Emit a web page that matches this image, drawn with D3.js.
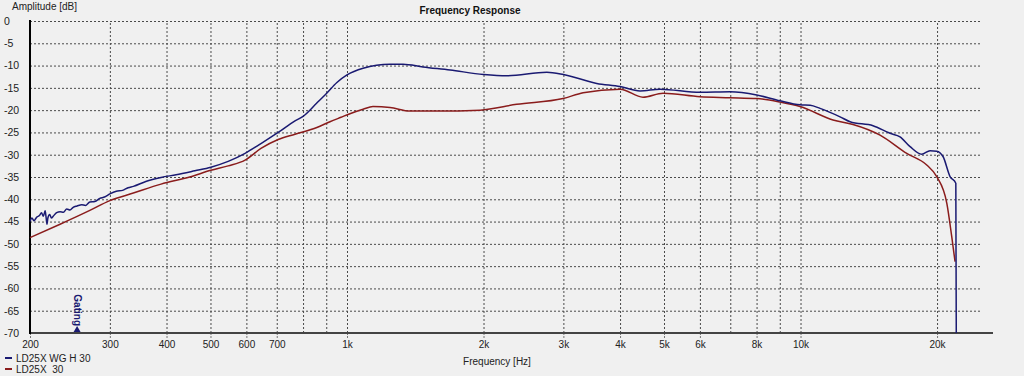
<!DOCTYPE html>
<html>
<head>
<meta charset="utf-8">
<script src="https://cdn.jsdelivr.net/npm/d3@7"></script>
<style>
  body { margin: 0; background: #f0f0f0; }
  svg { display: block; font-family: "Liberation Sans", Arial, sans-serif; }
</style>
</head>
<body>
<div id="chart"></div>
<script>
// measured curves (Hz, dB)
var blueFreq = [200, 202, 204, 207, 210, 212, 214, 216, 217, 218, 219, 221, 223, 225, 229, 233, 237, 241, 245, 249, 254, 260, 265, 271, 278, 285, 292, 300, 310, 320, 329, 338, 360, 389, 420, 462, 501, 547, 596, 646, 705, 768, 800, 858, 902, 950, 1000, 1085, 1244, 1329, 1471, 1688, 2000, 2250, 2758, 3000, 3554, 4000, 4428, 4900, 6004, 6994, 8008, 9013, 9977, 10500, 11042, 12222, 12860, 14452, 15756, 16574, 17440, 18504, 19300, 19968, 20616, 21364, 22000, 22050]
var blueDb = [-45.0, -44.2, -44.8, -44.0, -43.6, -43.0, -43.8, -42.6, -44.0, -45.6, -44.2, -43.4, -44.2, -43.8, -43.0, -42.8, -42.9, -42.2, -42.4, -41.8, -41.5, -41.2, -41.4, -40.6, -40.5, -39.8, -39.5, -38.8, -38.2, -38.0, -37.4, -37.1, -36.0, -35.1, -34.5, -33.6, -32.8, -31.5, -29.7, -27.5, -25.0, -22.4, -21.4, -18.4, -16.2, -13.8, -12.1, -10.6, -9.7, -9.7, -10.3, -11.0, -12.0, -12.3, -11.5, -12.0, -14.0, -14.7, -15.7, -15.3, -16.0, -15.9, -16.6, -17.9, -18.8, -18.9, -19.6, -21.5, -22.6, -23.5, -25.2, -26.0, -28.2, -29.9, -29.1, -29.2, -30.4, -34.9, -36.4, -70]

var redFreq = [200, 233, 271, 300, 338, 389, 450, 501, 547, 596, 646, 705, 768, 858, 917, 970, 1015, 1085, 1141, 1244, 1377, 1577, 1965, 2367, 2994, 3316, 4000, 4494, 4976, 6004, 6994, 8008, 9013, 9977, 11794, 13056, 14975, 17148, 18980, 19968, 21018, 21549, 21914]
var redDb = [-48.6, -45.6, -42.5, -40.3, -38.6, -36.6, -35.0, -33.5, -32.5, -31.2, -28.6, -26.6, -25.4, -23.9, -22.6, -21.6, -20.8, -19.8, -19.2, -19.4, -20.2, -20.2, -20.0, -18.7, -17.4, -16.1, -15.3, -17.1, -16.2, -17.0, -17.2, -17.4, -18.2, -19.2, -22.2, -23.2, -25.6, -29.7, -32.3, -34.9, -40.9, -48.4, -54.0]

var gridFreqs = [300, 400, 500, 600, 700, 800, 900, 1000, 2000, 3000, 4000, 5000, 6000, 7000, 8000, 9000, 10000, 20000]
var labelFreqs = [200, 300, 400, 500, 600, 700, 1000, 2000, 3000, 4000, 5000, 6000, 8000, 10000, 20000]
var dbTicks = [0, -5, -10, -15, -20, -25, -30, -35, -40, -45, -50, -55, -60, -65, -70]
var seriesNames = ["LD25X WG H 30", "LD25X  30"]
var seriesColors = ["#1a1a72", "#8a1c1c"]
var gatingFreq = 254

var W = 1024, H = 376
var pLeft = 30, pRight = 993, gridRight = 981, pTop = 21, pBottom = 333

var svg = d3.select("#chart").append("svg")
  .attr("width", W).attr("height", H)

var x = d3.scaleLog().domain([200, 26570]).range([pLeft, pRight])
var y = d3.scaleLinear().domain([-70, 0]).range([pBottom, pTop])

// horizontal grid
svg.append("g")
  .attr("transform", "translate(" + pLeft + ",0)")
  .call(d3.axisLeft(y).tickValues(dbTicks.slice(0, -1)).tickSize(-(gridRight - pLeft)).tickFormat(""))
  .call(function(g) { g.select(".domain").remove() })
  .selectAll("line")
    .attr("stroke", "#4a4a4a")
    .attr("stroke-dasharray", "2,2")

// vertical grid
svg.append("g")
  .attr("transform", "translate(0," + pBottom + ")")
  .call(d3.axisBottom(x).tickValues(gridFreqs).tickSize(-(pBottom - pTop)).tickFormat(""))
  .call(function(g) { g.select(".domain").remove() })
  .selectAll("line")
    .attr("stroke", "#4a4a4a")
    .attr("stroke-dasharray", "2,2")

// x labels
var fmt = function(d) { return d >= 1000 ? (d / 1000) + "k" : d }
var xAxis = svg.append("g")
  .attr("transform", "translate(0," + pBottom + ")")
  .call(d3.axisBottom(x).tickValues(labelFreqs).tickSize(5).tickPadding(3).tickFormat(fmt))
xAxis.select(".domain").remove()
xAxis.selectAll("line").attr("stroke", "#777").attr("stroke-dasharray", "2,1")
xAxis.selectAll("text").attr("fill", "#222").style("font-size", "10px")

// y labels
var yAxis = svg.append("g")
  .attr("transform", "translate(" + pLeft + ",0)")
  .call(d3.axisLeft(y).tickValues(dbTicks).tickSize(0).tickFormat(function(d) { return d }))
yAxis.select(".domain").remove()
yAxis.selectAll("text")
  .attr("x", 4 - pLeft)
  .attr("text-anchor", "start")
  .attr("fill", "#222")
  .style("font-size", "10.5px")

// axis lines
svg.append("line")
  .attr("x1", pLeft - 1).attr("x2", pRight)
  .attr("y1", pBottom).attr("y2", pBottom)
  .attr("stroke", "#444").attr("stroke-width", 2)
svg.append("line")
  .attr("x1", pLeft).attr("x2", pLeft)
  .attr("y1", pTop - 1).attr("y2", pBottom + 1)
  .attr("stroke", "#000").attr("stroke-width", 2)

// curves
var line = d3.line()
  .x(function(d) { return x(d[0]) })
  .y(function(d) { return y(d[1]) })
  .curve(d3.curveMonotoneX)

var series = [
  d3.zip(blueFreq, blueDb),
  d3.zip(redFreq, redDb)
]
svg.append("g").selectAll("path")
  .data([series[1], series[0]])
  .enter().append("path")
    .attr("d", line)
    .attr("fill", "none")
    .attr("stroke", function(d, i) { return i == 0 ? seriesColors[1] : seriesColors[0] })
    .attr("stroke-width", 1.5)

// gating marker
var gx = x(gatingFreq)
svg.append("path")
  .attr("d", "M" + (gx - 3.5) + "," + (pBottom - 1) + "L" + (gx + 3.5) + "," + (pBottom - 1) + "L" + gx + "," + (pBottom - 7) + "Z")
  .attr("fill", "#1a1a72")
svg.append("text")
  .attr("transform", "translate(" + (gx - 3.5) + "," + (pBottom - 7) + ") rotate(90)")
  .attr("text-anchor", "end")
  .attr("fill", "#1a1a72")
  .style("font-size", "10px")
  .style("font-weight", "bold")
  .text("Gating")

// titles
svg.append("text")
  .attr("x", 12).attr("y", 10)
  .attr("fill", "#222")
  .style("font-size", "10px")
  .text("Amplitude [dB]")
svg.append("text")
  .attr("x", 470).attr("y", 14)
  .attr("text-anchor", "middle")
  .attr("fill", "#111")
  .style("font-size", "10px")
  .style("font-weight", "bold")
  .text("Frequency Response")
svg.append("text")
  .attr("x", 497).attr("y", 365)
  .attr("text-anchor", "middle")
  .attr("fill", "#222")
  .style("font-size", "10px")
  .text("Frequency [Hz]")

// legend
var leg = svg.append("g").selectAll("g")
  .data(seriesNames)
  .enter().append("g")
    .attr("transform", function(d, i) { return "translate(0," + (358 + i * 11) + ")" })
leg.append("line")
  .attr("x1", 5).attr("x2", 12)
  .attr("stroke", function(d, i) { return seriesColors[i] })
  .attr("stroke-width", 2)
leg.append("text")
  .attr("x", 16).attr("y", 4)
  .attr("fill", "#222")
  .style("font-size", "10px")
  .style("white-space", "pre")
  .text(function(d) { return d })
</script>
</body>
</html>
